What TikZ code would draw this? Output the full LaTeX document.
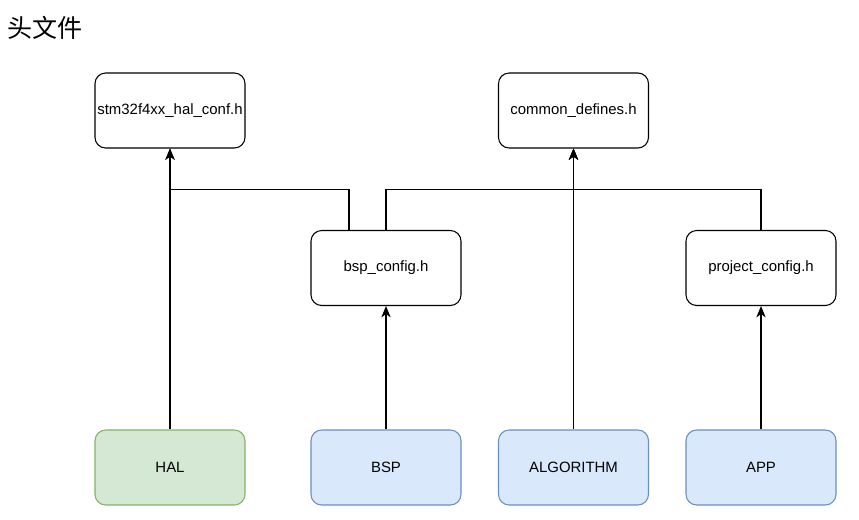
\documentclass[tikz,border=0pt]{standalone}
\usepackage{fontspec}
\setmainfont{Liberation Sans}
\newfontfamily\cjk{Noto Sans CJK SC}
\usetikzlibrary{arrows.meta}
\definecolor{halfill}{HTML}{D5E8D4}
\definecolor{haldraw}{HTML}{82B366}
\definecolor{bluefill}{HTML}{DAE8FC}
\definecolor{bluedraw}{HTML}{6C8EBF}
\tikzset{
  hbox/.style={draw=black, rounded corners=8pt, minimum width=112.5pt, minimum height=56.25pt, inner sep=0pt, font=\fontsize{11.2pt}{13pt}\selectfont, fill=white, line width=0.8pt},
  greenbox/.style={hbox, fill=halfill, draw=haldraw},
  bluebox/.style={hbox, fill=bluefill, draw=bluedraw},
  conn/.style={draw=black, line width=0.8pt},
  arr/.style={conn, -{Stealth[length=8.5pt, width=7pt, inset=2.5pt]}}
}
\begin{document}
\begin{tikzpicture}[x=0.75pt, y=-0.75pt]
\useasboundingbox (0,0) rectangle (859,519);
\node[anchor=west, font=\cjk\fontsize{18.8pt}{22pt}\selectfont, inner sep=0pt] (title) at (7,28) {头文件};
\node[hbox] (stm) at (170,110.5) {stm32f4xx\_hal\_conf.h};
\node[hbox] (common) at (573.5,110.5) {common\_defines.h};
\node[hbox] (bspc) at (386,268) {bsp\_config.h};
\node[hbox] (projc) at (761,268) {project\_config.h};
\node[greenbox] (hal) at (170,467.5) {HAL};
\node[bluebox] (bsp) at (386,467.5) {BSP};
\node[bluebox] (algo) at (573.5,467.5) {ALGORITHM};
\node[bluebox] (app) at (761,467.5) {APP};
\coordinate (j1) at (349,189.5);
\coordinate (j2) at (386,189.5);
\coordinate (j3) at (761,189.5);
\draw[arr] (hal.north) -- (stm.south);
\draw[arr] (bspc.north -| j1) -- (j1) -| (stm.south);
\draw[arr] (bspc.north -| j2) -- (j2) -| (common.south);
\draw[arr] (algo.north) -- (common.south);
\draw[arr] (projc.north) -- (j3) -| (common.south);
\draw[arr] (bsp.north) -- (bspc.south);
\draw[arr] (app.north) -- (projc.south);
\end{tikzpicture}
\end{document}
